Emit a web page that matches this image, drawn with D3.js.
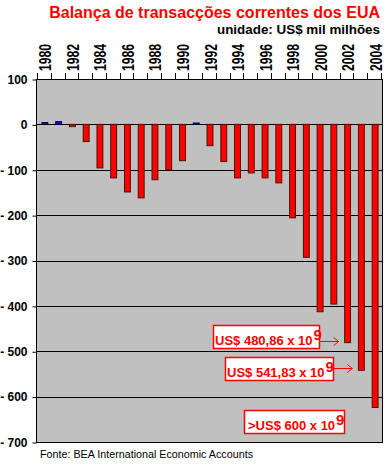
<!doctype html>
<meta charset="utf-8">
<title>Balança de transacções correntes dos EUA</title>
<script src="https://cdn.jsdelivr.net/npm/d3@7"></script>
<style>
  body { margin: 0; background: #fff; }
  svg { display: block; font-family: "Liberation Sans", Arial, sans-serif; }
</style>

<svg id="chart" width="388" height="465"></svg>

<script>
  // dados (US$ mil milhões)
  const years = [1980, 1981, 1982, 1983, 1984, 1985, 1986, 1987, 1988, 1989, 1990, 1991, 1992,
    1993, 1994, 1995, 1996, 1997, 1998, 1999, 2000, 2001, 2002, 2003, 2004]
  const balance = [4, 6, -5, -38, -96, -118, -149, -162, -122, -100, -80, 3, -47,
    -82, -118, -107, -118, -129, -206, -293, -413, -396, -481, -542, -624]
  const yearLabels = [1980, 1982, 1984, 1986, 1988, 1990, 1992, 1994, 1996, 1998, 2000, 2002, 2004]
  const yTicks = [100, 0, -100, -200, -300, -400, -500, -600, -700]
  const noteYears = [2002, 2003, 2004]
  const noteTexts = ['US$ 480,86 x 10', 'US$ 541,83 x 10', '>US$ 600 x 10']

  const svg = d3.select('#chart')
  const plot = { left: 36, right: 382, top: 79, bottom: 442 }

  const x = d3.scaleBand()
    .domain(years)
    .range([38, 382])
    .paddingInner(0.57)
    .paddingOuter(0.285)
  const y = d3.scaleLinear()
    .domain([-700, 100])
    .range([plot.bottom, plot.top])

  // título
  svg.append('text')
    .attr('x', 380).attr('y', 18)
    .attr('text-anchor', 'end')
    .attr('fill', '#ff0000')
    .attr('font-weight', 'bold')
    .attr('font-size', 16)
    .text('Balança de transacções correntes dos EUA')

  svg.append('text')
    .attr('x', 380).attr('y', 34)
    .attr('text-anchor', 'end')
    .attr('font-weight', 'bold')
    .attr('font-size', 13.5)
    .attr('textLength', 163)
    .attr('lengthAdjust', 'spacingAndGlyphs')
    .text('unidade: US$ mil milhões')

  // área do gráfico
  svg.append('rect')
    .attr('x', plot.left).attr('y', plot.top)
    .attr('width', plot.right - plot.left)
    .attr('height', plot.bottom - plot.top)
    .attr('fill', '#c0c0c0')

  // linhas de grelha
  svg.append('g')
    .selectAll('line')
    .data(yTicks)
    .join('line')
    .attr('x1', plot.left).attr('x2', plot.right)
    .attr('y1', d => Math.round(y(d)) + 0.5)
    .attr('y2', d => Math.round(y(d)) + 0.5)
    .attr('stroke', '#000')

  // bordas
  svg.append('line')
    .attr('x1', plot.left + 0.5).attr('x2', plot.left + 0.5)
    .attr('y1', plot.top).attr('y2', plot.bottom + 1)
    .attr('stroke', '#000')
  svg.append('line')
    .attr('x1', plot.right + 0.5).attr('x2', plot.right + 0.5)
    .attr('y1', plot.top).attr('y2', plot.bottom + 1)
    .attr('stroke', '#000')

  // eixo y
  const yAxis = d3.axisLeft(y)
    .tickValues(yTicks)
    .tickSize(4)
    .tickPadding(5)
    .tickFormat(d => (d < 0 ? '- ' + -d : d))
  svg.append('g')
    .attr('transform', `translate(${plot.left + 0.5},0.5)`)
    .call(yAxis)
    .call(g => g.select('.domain').remove())
    .call(g => g.selectAll('text')
      .attr('font-family', '"Liberation Sans", Arial, sans-serif')
      .attr('font-size', 12)
      .attr('font-weight', 'bold')
      .attr('fill', '#000'))

  // marcas no topo (limites de cada ano)
  const step = x.step()
  svg.append('g')
    .selectAll('line')
    .data(years.concat([null]))
    .join('line')
    .attr('x1', (d, i) => Math.round(x.range()[0] + i * step) - 0.5)
    .attr('x2', (d, i) => Math.round(x.range()[0] + i * step) - 0.5)
    .attr('y1', 73).attr('y2', plot.top)
    .attr('stroke', '#000')

  // anos
  svg.append('g')
    .selectAll('text')
    .data(yearLabels)
    .join('text')
    .attr('transform', d => `translate(${x(d) + x.bandwidth() / 2 + 6.5},71) rotate(-90)`)
    .attr('font-weight', 'bold')
    .attr('font-size', 16)
    .attr('textLength', 27)
    .attr('lengthAdjust', 'spacingAndGlyphs')
    .text(d => d)

  // barras
  svg.append('g')
    .selectAll('rect')
    .data(years)
    .join('rect')
    .attr('x', d => x(d))
    .attr('width', x.bandwidth())
    .attr('y', (d, i) => y(Math.max(0, balance[i])))
    .attr('height', (d, i) => Math.abs(y(balance[i]) - y(0)))
    .attr('fill', (d, i) => (balance[i] > 0 ? '#0000ff' : '#ff0000'))
    .attr('stroke', (d, i) => (balance[i] > 0 ? '#000040' : '#4a1500'))
    .attr('stroke-width', 1)

  // notas
  const boxes = [
    { x: 213.5, y: 325.5, w: 106, h: 23, tx: 215 },
    { x: 225.5, y: 357.5, w: 108, h: 23, tx: 227 },
    { x: 244.5, y: 410.5, w: 100, h: 23, tx: 248 },
  ]
  const notes = svg.append('g')
  noteTexts.forEach((t, i) => {
    const b = boxes[i]
    notes.append('rect')
      .attr('x', b.x).attr('y', b.y)
      .attr('width', b.w).attr('height', b.h)
      .attr('fill', '#fff')
      .attr('stroke', '#ff0000')
      .attr('stroke-width', 1.5)
    const label = notes.append('text')
      .attr('x', b.tx).attr('y', b.y + b.h - 4)
      .attr('fill', '#ff0000')
      .attr('font-weight', 'bold')
      .attr('font-size', 13)
      .text(t)
    label.append('tspan')
      .attr('dx', 1)
      .attr('dy', -5)
      .attr('font-size', 15)
      .text('9')

    // seta até a barra (só para 2002 e 2003)
    if (i < 2) {
      const idx = years.indexOf(noteYears[i])
      const ay = Math.round(y(balance[idx])) - 1.5
      const ax = x(noteYears[i]) - 6
      notes.append('line')
        .attr('x1', b.x + b.w).attr('x2', ax)
        .attr('y1', ay).attr('y2', ay)
        .attr('stroke', '#ff0000')
      notes.append('polyline')
        .attr('points', `${ax - 5},${ay - 4} ${ax},${ay} ${ax - 5},${ay + 4}`)
        .attr('fill', 'none')
        .attr('stroke', '#ff0000')
    }
  })

  // fonte
  svg.append('text')
    .attr('x', 40).attr('y', 458)
    .attr('font-size', 11)
    .attr('fill', '#000')
    .attr('textLength', 213)
    .attr('lengthAdjust', 'spacingAndGlyphs')
    .text('Fonte: BEA International Economic Accounts')
</script>
